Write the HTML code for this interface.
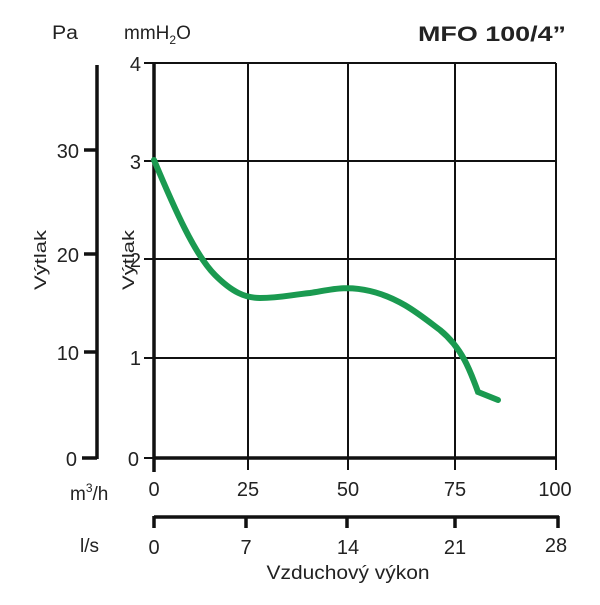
<!DOCTYPE html>
<html><head><style>body{margin:0;background:#fff}</style></head><body>
<svg width="600" height="600" xmlns="http://www.w3.org/2000/svg" font-family="Liberation Sans, sans-serif" fill="#222">
<text x="52" y="39" font-size="19" textLength="26" lengthAdjust="spacingAndGlyphs">Pa</text>
<text x="124" y="39" font-size="19">mmH<tspan font-size="12" dy="5">2</tspan><tspan dy="-5">O</tspan></text>
<text x="566" y="41" font-size="21" font-weight="bold" text-anchor="end" textLength="148" lengthAdjust="spacingAndGlyphs">MFO 100/4”</text>
<g stroke="#111" stroke-width="3.5"><line x1="97" y1="65" x2="97" y2="459"/>
<line x1="84" y1="150" x2="97" y2="150"/><line x1="84" y1="254" x2="97" y2="254"/><line x1="84" y1="352" x2="97" y2="352"/><line x1="82" y1="458" x2="97" y2="458"/></g>
<g font-size="20" text-anchor="end"><text x="79" y="158">30</text><text x="79" y="262">20</text><text x="79" y="360">10</text><text x="77" y="466">0</text></g>
<text transform="translate(46,290) rotate(-90)" font-size="17" textLength="60" lengthAdjust="spacingAndGlyphs">Výtlak</text>
<text transform="translate(134,290) rotate(-90)" font-size="17" textLength="60" lengthAdjust="spacingAndGlyphs">Výtlak</text>
<g stroke="#111" stroke-width="2">
<line x1="154" y1="63" x2="556" y2="63"/><line x1="154" y1="161" x2="556" y2="161"/><line x1="154" y1="259" x2="556" y2="259"/><line x1="154" y1="358" x2="556" y2="358"/>
<line x1="248" y1="63" x2="248" y2="470"/><line x1="348" y1="63" x2="348" y2="470"/><line x1="455" y1="63" x2="455" y2="470"/><line x1="556" y1="63" x2="556" y2="470"/>
<line x1="144" y1="63" x2="154" y2="63"/><line x1="144" y1="161" x2="154" y2="161"/><line x1="144" y1="259" x2="154" y2="259"/><line x1="144" y1="358" x2="154" y2="358"/><line x1="144" y1="458" x2="154" y2="458"/>
</g>
<g stroke="#111" stroke-width="3.5"><line x1="154" y1="62" x2="154" y2="472"/><line x1="154" y1="458" x2="557" y2="458"/></g>
<g font-size="20" text-anchor="end"><text x="141" y="71">4</text><text x="141" y="169">3</text><text x="141" y="267">2</text><text x="141" y="365">1</text><text x="139" y="466">0</text></g>
<path d="M154,160 C175,210 195,255 215,275 C232,292 245,298 260,298 C280,298 290,295 310,293 C330,290 345,285 370,291 C400,298 420,315 440,330 C462,348 470,370 478,392 L498,400" fill="none" stroke="#1a9a50" stroke-width="6" stroke-linecap="round"/>
<g font-size="20" text-anchor="middle"><text x="154" y="496">0</text><text x="248" y="496">25</text><text x="348" y="496">50</text><text x="455" y="496">75</text><text x="555" y="496">100</text></g>
<text x="70" y="500" font-size="19">m<tspan font-size="12" dy="-8">3</tspan><tspan dy="8">/h</tspan></text>
<g stroke="#111" stroke-width="3.5"><line x1="154" y1="517" x2="559" y2="517"/>
<line x1="154" y1="516" x2="154" y2="528"/><line x1="246" y1="516" x2="246" y2="528"/><line x1="347" y1="516" x2="347" y2="528"/><line x1="455" y1="516" x2="455" y2="528"/><line x1="558" y1="516" x2="558" y2="528"/></g>
<g font-size="20" text-anchor="middle"><text x="154" y="554">0</text><text x="246" y="554">7</text><text x="348" y="554">14</text><text x="455" y="554">21</text><text x="556" y="552">28</text></g>
<text x="80" y="552" font-size="19">l/s</text>
<text x="348" y="579" font-size="19" text-anchor="middle" textLength="163" lengthAdjust="spacingAndGlyphs">Vzduchový výkon</text>
</svg>
</body></html>
